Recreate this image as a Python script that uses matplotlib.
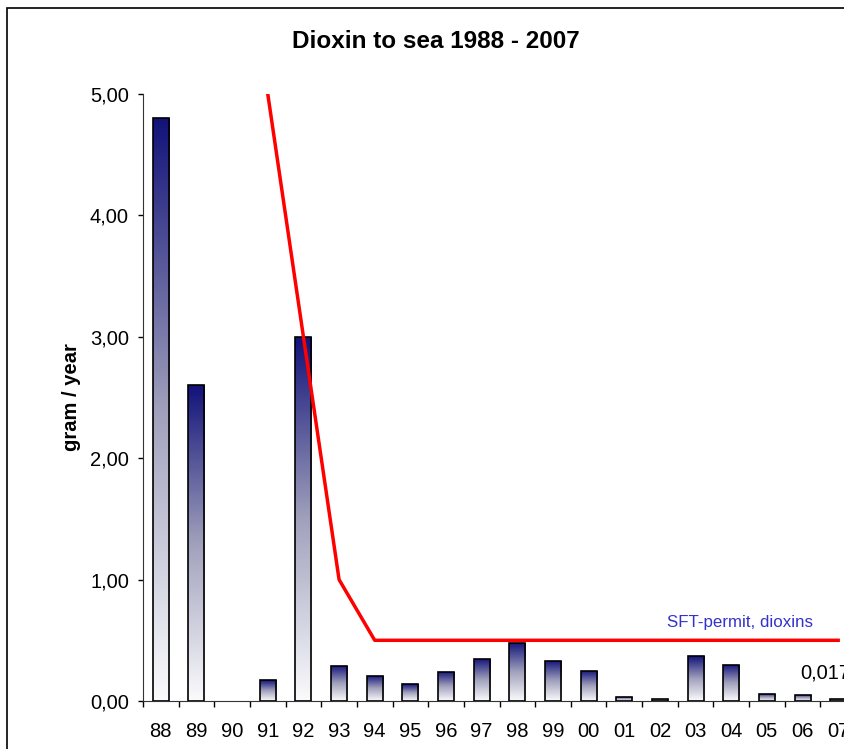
import matplotlib
matplotlib.use("Agg")
from matplotlib import pyplot as plt
from matplotlib.colors import LinearSegmentedColormap
from matplotlib.patches import Rectangle
import numpy as np

# data
years = ['88', '89', '90', '91', '92', '93', '94', '95', '96', '97',
         '98', '99', '00', '01', '02', '03', '04', '05', '06', '07']
dioxin = [4.80, 2.60, 0.0, 0.17, 3.00, 0.29, 0.21, 0.14, 0.24, 0.35,
          0.48, 0.33, 0.25, 0.035, 0.02, 0.37, 0.30, 0.06, 0.05, 0.017]
permit_years = ['91', '92', '93', '94', '95', '96', '97', '98', '99', '00',
                '01', '02', '03', '04', '05', '06', '07']
permit = [5.0, 3.0, 1.0, 0.5, 0.5, 0.5, 0.5, 0.5, 0.5, 0.5,
          0.5, 0.5, 0.5, 0.5, 0.5, 0.5, 0.5]
yticks = [0, 1, 2, 3, 4, 5]
ytick_labels = ['0,00', '1,00', '2,00', '3,00', '4,00', '5,00']

plt.rcParams['font.family'] = ['Liberation Sans', 'DejaVu Sans']

fig = plt.figure(figsize=(8.45, 7.49), dpi=100)
fig.patches.append(Rectangle((7 / 845, -0.1), 1.2, 1.1 - 8 / 749,
                             transform=fig.transFigure, fill=False,
                             edgecolor='black', linewidth=1.2))

# plot area runs past the right edge, like the cropped original
ax = fig.add_axes([143 / 845, 48 / 749, 713 / 845, 607 / 749])

x = np.arange(len(years))
bars = ax.bar(x, dioxin, width=0.45, facecolor='none', edgecolor='black',
              linewidth=1.2, zorder=3)

# white at the bottom to deep blue at the top of every bar
cmap = LinearSegmentedColormap.from_list(
    'grad', [(0, '#fbfbfd'), (0.5, '#a0a0bc'), (1, '#12127a')])
grad = np.linspace(0, 1, 256).reshape(-1, 1)
for b in bars:
    h = b.get_height()
    if h <= 0:
        b.set_linewidth(0)
        continue
    im = ax.imshow(grad, cmap=cmap, origin='lower', aspect='auto',
                   extent=[b.get_x(), b.get_x() + b.get_width(), 0, h],
                   zorder=2)
    im.set_clip_path(b)

px = [years.index(y) for y in permit_years]
ax.plot(px, permit, color='#ff0000', linewidth=2.5, zorder=4)

ax.set_xlim(-0.5, len(years) - 0.5)
ax.set_ylim(0, 5)
ax.set_yticks(yticks)
ax.set_yticklabels(ytick_labels, fontsize=14.5)
ax.set_xticks(x)
ax.set_xticklabels(years, fontsize=14.5)
ax.set_xticks(np.arange(-0.5, len(years), 1), minor=True)
ax.tick_params(axis='x', which='major', length=0, pad=15)
ax.tick_params(axis='x', which='minor', length=4, direction='out', width=1)
ax.tick_params(axis='y', length=3.6, direction='out', width=1, pad=6.5)

for s in ['top', 'right']:
    ax.spines[s].set_visible(False)
ax.spines['left'].set_color('#333333')
ax.spines['bottom'].set_color('#333333')

ax.set_ylabel('gram / year', fontsize=14.5, fontweight='bold')
ax.yaxis.set_label_coords(-62 / 713, 0.5)
fig.text(436 / 845, 1 - 42 / 749, 'Dioxin to sea 1988 - 2007',
         fontsize=17.5, fontweight='bold', ha='center', va='center')

ax.text(14.2, 0.65, 'SFT-permit, dioxins', color='#3333cc', fontsize=12.2,
        va='center', ha='left')
ax.annotate('0,017', xy=(19, dioxin[-1]), xytext=(-27, 19),
            textcoords='offset points', fontsize=14.5, va='center', ha='left',
            annotation_clip=False)

fig.savefig('out.png', dpi=100)
